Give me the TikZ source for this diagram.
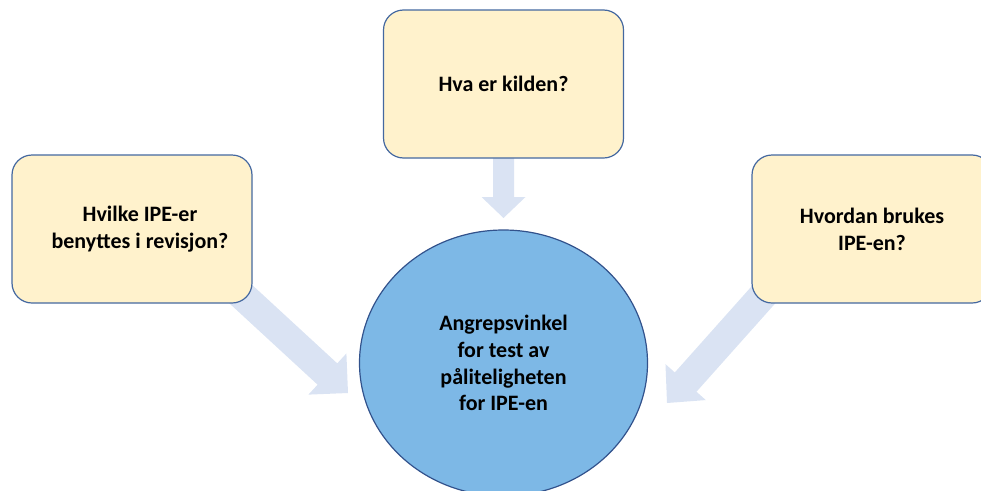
\documentclass[tikz,border=0pt]{standalone}
\usepackage{fontspec}
\setmainfont{Carlito}
\usetikzlibrary{calc,shapes.geometric}
\definecolor{boxfill}{RGB}{255,242,204}
\definecolor{boxline}{RGB}{68,104,160}
\definecolor{circfill}{RGB}{125,184,230}
\definecolor{circline}{RGB}{50,82,140}
\definecolor{arrfill}{RGB}{218,227,243}
\tikzset{
  qbox/.style={draw=boxline, line width=1.2pt, fill=boxfill, rounded corners=20pt,
    minimum width=240pt, minimum height=148pt, inner sep=0pt, align=center,
    font=\bfseries\fontsize{22}{26.8}\selectfont},
  core/.style={ellipse, draw=circline, line width=1.2pt, fill=circfill,
    minimum width=288pt, minimum height=266pt, inner sep=0pt, align=center,
    font=\bfseries\fontsize{22}{26.8}\selectfont},
  arrbody/.style={fill=arrfill, draw=none}
}
% #1 start, #2 tip, #3 half shaft width, #4 half head width, #5 head length
\newcommand\blockarr[5]{%
  \coordinate (#2-base) at ($(#2)!#5!(#1)$);
  \fill[arrbody] ($(#1)!#3!90:(#2)$) -- ($(#2-base)!#3!-90:(#1)$)
    -- ($(#2-base)!#4!-90:(#1)$) -- (#2) -- ($(#2-base)!#4!90:(#1)$)
    -- ($(#2-base)!#3!90:(#1)$) -- ($(#1)!#3!-90:(#2)$) -- cycle;
}
\begin{document}
\begin{tikzpicture}[x=1pt,y=1pt]
\useasboundingbox (0,0) rectangle (981,-490);
\clip (0,0) rectangle (981,-490);
% connector end points
\coordinate (tA) at (503.5,-140);
\coordinate (tB) at (503.5,-218);
\coordinate (lA) at (220,-275);
\coordinate (lB) at (348,-393);
\coordinate (rA) at (782,-274);
\coordinate (rB) at (667,-403);
\blockarr{tA}{tB}{10.5pt}{22pt}{21pt}
\blockarr{lA}{lB}{14.5pt}{28pt}{28pt}
\blockarr{rA}{rB}{14.5pt}{27pt}{28pt}
% nodes
\node[qbox] (top) at (503.5,-84) {Hva er kilden?};
\node[qbox] (left) at (132,-229) {\hspace*{16pt}Hvilke IPE-er\\\hspace*{16pt}benyttes i revisjon?};
\node[qbox] (right) at (872,-229) {Hvordan brukes\\IPE-en?};
\node[core] (core) at (503.5,-363) {Angrepsvinkel\\for test av\\påliteligheten\\for IPE-en};
\end{tikzpicture}
\end{document}
